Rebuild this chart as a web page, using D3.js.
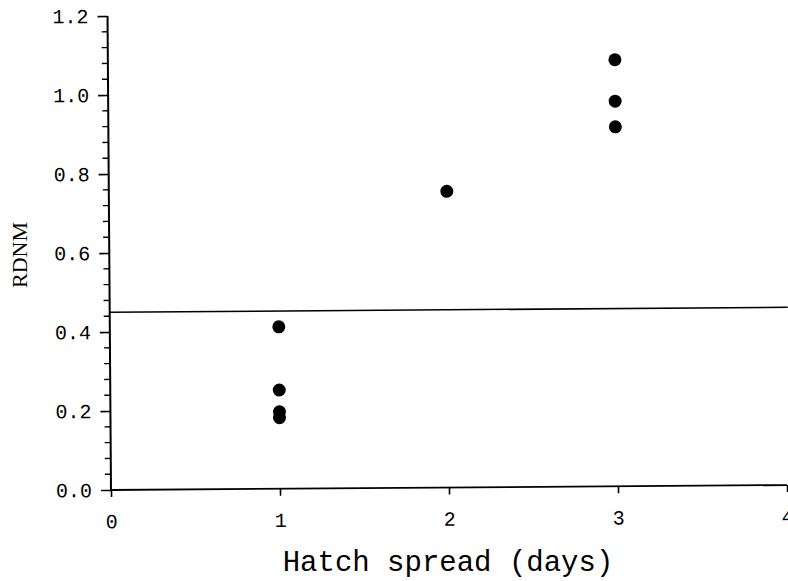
<!DOCTYPE html>
<html>
<head>
<meta charset="utf-8">
<script src="https://cdn.jsdelivr.net/npm/d3@7"></script>
<style>
  html, body { margin: 0; padding: 0; background: #fff; }
  svg { display: block; }
</style>
</head>
<body>
<svg id="chart" width="788" height="581"></svg>
<script>
// Data
const hatchSpread = [1, 1, 1, 1, 2, 3, 3, 3];
const rdnm        = [0.41, 0.25, 0.195, 0.18, 0.75, 1.08, 0.975, 0.91];
const refLine     = 0.45;
const xTicks      = [0, 1, 2, 3, 4];
const yTicks      = [0.0, 0.2, 0.4, 0.6, 0.8, 1.0, 1.2];
const yMinorStep  = 0.04;

const W = 788, H = 581;
const m = { left: 111, top: 16, right: 1, bottom: 91 };
const iw = W - m.left - m.right;
const ih = H - m.top - m.bottom;

const svg = d3.select("#chart");
const root = svg.append("g")
  .attr("transform", `rotate(-0.42, ${m.left}, ${m.top + ih}) translate(${m.left},${m.top})`);

const x = d3.scaleLinear().domain([0, 4]).range([0, iw]);
const y = d3.scaleLinear().domain([0, 1.2]).range([ih, 0]);

const mono = "'Liberation Mono', 'Courier New', monospace";

// Y axis
const yAxis = d3.axisLeft(y).tickValues(yTicks).tickFormat(d3.format(".1f")).tickSize(10).tickPadding(9);
const gy = root.append("g").call(yAxis);
gy.select(".domain").attr("d", `M0,0V${ih}`).attr("stroke", "#000").attr("stroke-width", 2);
gy.selectAll(".tick line").attr("stroke", "#000").attr("stroke-width", 1.6);
gy.selectAll(".tick text").attr("font-family", mono).attr("font-size", 20).attr("fill", "#000");

// Y minor ticks
const minor = d3.range(0, 1.2 + 1e-9, yMinorStep).filter(v => Math.abs(v / 0.2 - Math.round(v / 0.2)) > 1e-6);
root.append("g").selectAll("line").data(minor).join("line")
  .attr("x1", -6).attr("x2", 0)
  .attr("y1", d => y(d)).attr("y2", d => y(d))
  .attr("stroke", "#000").attr("stroke-width", 1.4);

// X axis
const xAxis = d3.axisBottom(x).tickValues(xTicks).tickFormat(d3.format("d")).tickSize(7).tickPadding(17);
const gx = root.append("g").attr("transform", `translate(0,${ih})`).call(xAxis);
gx.select(".domain").attr("d", `M0,0H${iw}`).attr("stroke", "#000").attr("stroke-width", 1.8);
gx.selectAll(".tick line").attr("stroke", "#000").attr("stroke-width", 1.6);
gx.selectAll(".tick text").attr("font-family", mono).attr("font-size", 20).attr("fill", "#000");

// Reference line
root.append("line")
  .attr("x1", x(0)).attr("x2", x(4) + 2)
  .attr("y1", y(refLine)).attr("y2", y(refLine))
  .attr("stroke", "#000").attr("stroke-width", 1.6);

// Points
root.append("g").selectAll("circle").data(hatchSpread.map((d, i) => [d, rdnm[i]])).join("circle")
  .attr("cx", d => x(d[0])).attr("cy", d => y(d[1]))
  .attr("r", 6.5).attr("fill", "#000");

// Axis titles
svg.append("text")
  .attr("x", 448).attr("y", 571)
  .attr("text-anchor", "middle")
  .attr("font-family", mono).attr("font-size", 29).attr("fill", "#000")
  .text("Hatch spread (days)");

svg.append("text")
  .attr("transform", "translate(27,255) rotate(-90)")
  .attr("text-anchor", "middle")
  .attr("font-family", "'Liberation Serif', 'Times New Roman', serif").attr("font-size", 22).attr("fill", "#000")
  .text("RDNM");
</script>
</body>
</html>
